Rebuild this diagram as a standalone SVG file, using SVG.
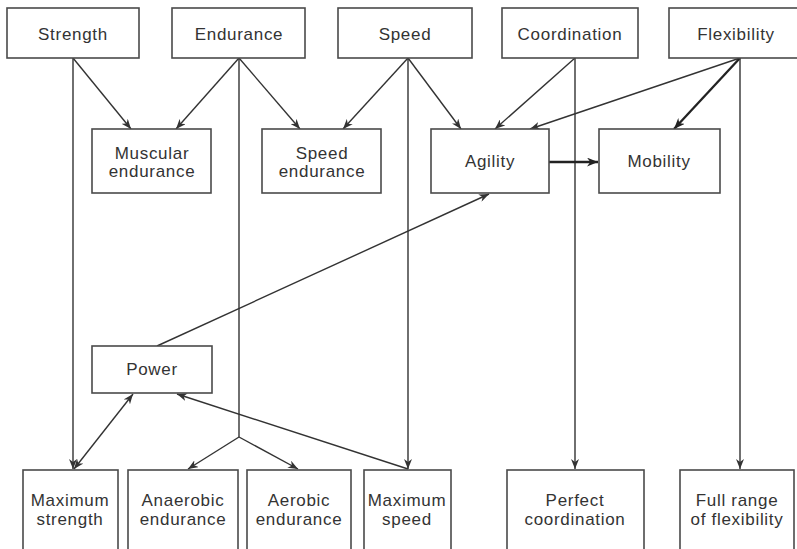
<svg xmlns="http://www.w3.org/2000/svg" width="797" height="549" viewBox="0 0 797 549">
<style>
.box{fill:#fff;stroke:#4a4a4a;stroke-width:1.6}
.t{font-family:"Liberation Sans",Arial,sans-serif;font-size:17px;letter-spacing:0.7px;fill:#333;text-anchor:middle}
.c{fill:none;stroke:#333;stroke-width:1.4}
.k{fill:none;stroke:#222;stroke-width:2.3}
</style>
<defs>
<marker id="a" viewBox="0 0 10 8" refX="10" refY="4" markerWidth="10" markerHeight="8" markerUnits="userSpaceOnUse" orient="auto-start-reverse">
<path d="M0,0 L10,4 L0,8 L3,4 Z" fill="#333"/>
</marker>
<marker id="b" viewBox="0 0 10 8" refX="10" refY="4" markerWidth="11" markerHeight="9" markerUnits="userSpaceOnUse" orient="auto">
<path d="M0,0 L10,4 L0,8 L3,4 Z" fill="#222"/>
</marker>
</defs>
<rect width="797" height="549" fill="#fff"/>
<g id="connectors">
<line class="c" x1="73" y1="58" x2="73" y2="469" marker-end="url(#a)"/>
<line class="c" x1="73" y1="58" x2="131" y2="129" marker-end="url(#a)"/>
<line class="c" x1="239" y1="58" x2="176" y2="129" marker-end="url(#a)"/>
<line class="c" x1="239" y1="58" x2="300" y2="129" marker-end="url(#a)"/>
<polyline class="c" points="239,58 239,437"/>
<line class="c" x1="239" y1="437" x2="188" y2="469" marker-end="url(#a)"/>
<line class="c" x1="239" y1="437" x2="298" y2="469" marker-end="url(#a)"/>
<line class="c" x1="408" y1="58" x2="343" y2="129" marker-end="url(#a)"/>
<line class="c" x1="408" y1="58" x2="408" y2="469" marker-end="url(#a)"/>
<line class="c" x1="408" y1="58" x2="461" y2="129" marker-end="url(#a)"/>
<line class="c" x1="575" y1="58" x2="495" y2="129" marker-end="url(#a)"/>
<line class="c" x1="575" y1="58" x2="575" y2="469" marker-end="url(#a)"/>
<line class="c" x1="740" y1="58" x2="530" y2="129" marker-end="url(#a)"/>
<line class="k" x1="740" y1="58" x2="674" y2="129" marker-end="url(#b)"/>
<line class="c" x1="740" y1="58" x2="740" y2="469" marker-end="url(#a)"/>
<line class="k" x1="549" y1="162" x2="598" y2="162" marker-end="url(#b)"/>
<line class="c" x1="157" y1="346" x2="489" y2="194" marker-end="url(#a)"/>
<line class="c" x1="74" y1="469" x2="133" y2="394" marker-start="url(#a)" marker-end="url(#a)"/>
<line class="c" x1="408" y1="469" x2="177" y2="394" marker-end="url(#a)"/>
</g>
<g id="strength"><rect class="box" x="7" y="8" width="132" height="50"/><text class="t" x="73" y="40">Strength</text></g>
<g id="endurance"><rect class="box" x="172" y="8" width="133" height="50"/><text class="t" x="239" y="40">Endurance</text></g>
<g id="speed"><rect class="box" x="338" y="8" width="134" height="50"/><text class="t" x="405" y="40">Speed</text></g>
<g id="coordination"><rect class="box" x="502" y="8" width="136" height="50"/><text class="t" x="570" y="40">Coordination</text></g>
<g id="flexibility"><rect class="box" x="669" y="8" width="135" height="50"/><text class="t" x="736" y="40">Flexibility</text></g>
<g id="muscular-endurance"><rect class="box" x="92" y="129" width="119" height="64"/><text class="t" x="152" y="159">Muscular</text><text class="t" x="152" y="177">endurance</text></g>
<g id="speed-endurance"><rect class="box" x="262" y="129" width="119" height="64"/><text class="t" x="322" y="159">Speed</text><text class="t" x="322" y="177">endurance</text></g>
<g id="agility"><rect class="box" x="431" y="129" width="118" height="64"/><text class="t" x="490" y="167">Agility</text></g>
<g id="mobility"><rect class="box" x="599" y="129" width="121" height="64"/><text class="t" x="659" y="167">Mobility</text></g>
<g id="power"><rect class="box" x="92" y="346" width="120" height="47"/><text class="t" x="152" y="375">Power</text></g>
<g id="maximum-strength"><rect class="box" x="23" y="470" width="95" height="90"/><text class="t" x="70" y="506">Maximum</text><text class="t" x="70" y="525">strength</text></g>
<g id="anaerobic-endurance"><rect class="box" x="128" y="470" width="110" height="90"/><text class="t" x="183" y="506">Anaerobic</text><text class="t" x="183" y="525">endurance</text></g>
<g id="aerobic-endurance"><rect class="box" x="247" y="470" width="104" height="90"/><text class="t" x="299" y="506">Aerobic</text><text class="t" x="299" y="525">endurance</text></g>
<g id="maximum-speed"><rect class="box" x="364" y="470" width="87" height="90"/><text class="t" x="407" y="506">Maximum</text><text class="t" x="407" y="525">speed</text></g>
<g id="perfect-coordination"><rect class="box" x="507" y="470" width="137" height="90"/><text class="t" x="575" y="506">Perfect</text><text class="t" x="575" y="525">coordination</text></g>
<g id="full-range-of-flexibility"><rect class="box" x="680" y="470" width="114" height="90"/><text class="t" x="737" y="506">Full range</text><text class="t" x="737" y="525">of flexibility</text></g>
</svg>
